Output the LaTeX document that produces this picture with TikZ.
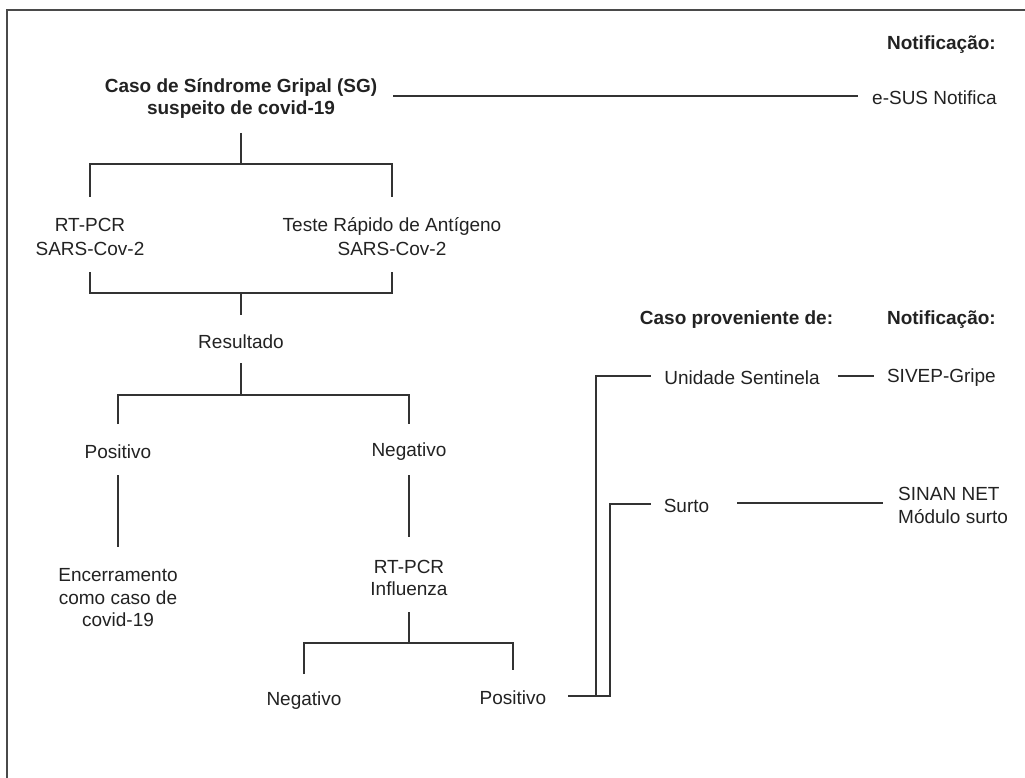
\documentclass[tikz,border=0pt]{standalone}
\usepackage{fontspec}
\setmainfont{Liberation Sans}
\usetikzlibrary{calc}
\definecolor{txt}{HTML}{222222}
\definecolor{ln}{HTML}{333333}
\definecolor{frm}{HTML}{4A4A4A}
\tikzset{
  lbl/.style={inner sep=0pt, text=txt, font=\fontsize{19}{23}\selectfont, align=center},
  hdr/.style={lbl, font=\bfseries\fontsize{19}{22}\selectfont},
  conn/.style={draw=ln, line width=1.3pt},
}
\begin{document}
\begin{tikzpicture}[x=1pt, y=-1pt]
\useasboundingbox (0,0) rectangle (1025,778);
\draw[frm, line width=1.3pt] (7,778) -- (7,10) -- (1025,10);

% nodes
\node[hdr, anchor=east] (notif1) at (996,45) {Notificação:};
\node[hdr] (title) at (241,99) {Caso de Síndrome Gripal (SG)\\suspeito de covid-19};
\node[lbl, anchor=east] (esus) at (997,98) {e-SUS Notifica};
\node[lbl, font=\fontsize{19}{24}\selectfont] (rt1) at (90,237) {RT-PCR\\SARS-Cov-2};
\node[lbl, font=\fontsize{19}{24}\selectfont] (teste) at (392,237) {Teste Rápido de Antígeno\\SARS-Cov-2};
\node[lbl] (resultado) at (241,342) {Resultado};
\node[lbl] (pos1) at (118,452) {Positivo};
\node[lbl] (neg1) at (409,452) {Negativo};
\node[lbl, font=\fontsize{19}{22.5}\selectfont] (encerr) at (118,598) {Encerramento\\como caso de\\covid-19};
\node[lbl, font=\fontsize{19}{21.5}\selectfont] (rtinf) at (409,578) {RT-PCR\\Influenza};
\node[lbl] (neg2) at (304,701) {Negativo};
\node[lbl] (pos2) at (513,698) {Positivo};
\node[hdr] (caso) at (736.5,320) {Caso proveniente de:};
\node[hdr, anchor=east] (notif2) at (996,320) {Notificação:};
\node[lbl] (unid) at (742,378) {Unidade Sentinela};
\node[lbl, anchor=east] (sivep) at (996,378) {SIVEP-Gripe};
\node[lbl] (surto) at (686.5,506) {Surto};
\node[lbl, anchor=west, align=left] (sinan) at (898,505) {SINAN NET\\Módulo surto};

% connectors
\draw[conn] (title.east) ++(16,-3) -- ($(esus.west)+(-14,-2)$);
\draw[conn] (title) ++(0,34) -- ++(0,31) coordinate (j1);
\draw[conn] (rt1) ++(0,-40) |- (j1) -| ($(teste)+(0,-40)$);
\draw[conn] (rt1) ++(0,35) |- ($(resultado)+(0,-49)$) coordinate (j2) -| ($(teste)+(0,35)$);
\draw[conn] (j2) -- ($(resultado)+(0,-27)$);
\draw[conn] (resultado) ++(0,21) -- ++(0,32) coordinate (j3);
\draw[conn] (pos1) ++(0,-28) |- (j3) -| ($(neg1)+(0,-28)$);
\draw[conn] (pos1) ++(0,23) -- ($(encerr)+(0,-51)$);
\draw[conn] (neg1) ++(0,23) -- ($(rtinf)+(0,-41)$);
\draw[conn] (rtinf) ++(0,34) -- ++(0,31) coordinate (j4);
\draw[conn] (neg2) ++(0,-27) |- (j4) -| ($(pos2)+(0,-28)$);
\draw[conn] (pos2) ++(55,-2) -- ++(42,0) |- ($(surto.west)+(-13,-2)$);
\draw[conn] (pos2) ++(83,-2) |- ($(unid.west)+(-13,-2)$);
\draw[conn] ($(unid.east)+(18,-2)$) -- ($(sivep.west)+(-13,-2)$);
\draw[conn] ($(surto.east)+(28,-3)$) -- ($(sinan.west)+(-15,-2)$);
\end{tikzpicture}
\end{document}
